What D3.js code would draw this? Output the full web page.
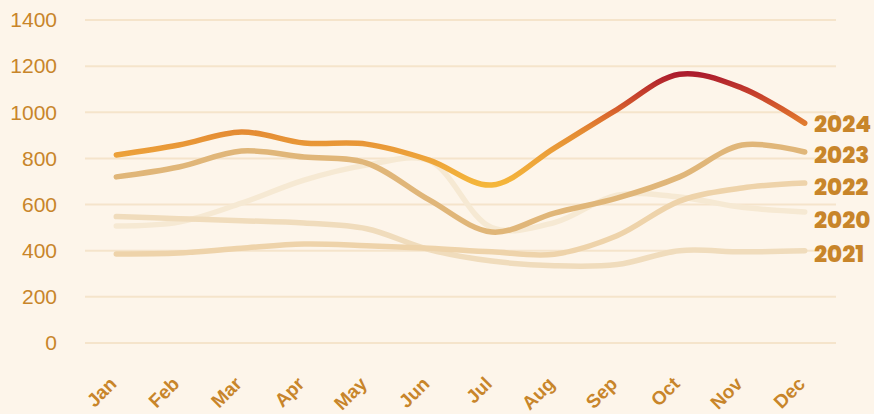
<!DOCTYPE html>
<html><head><meta charset="utf-8">
<script src="https://cdn.jsdelivr.net/npm/d3@7"></script>
<style>html,body{margin:0;padding:0;background:#fdf5ea;}svg{display:block;}</style>
</head><body><svg id="c" width="874" height="414"></svg>
<script>
const months = ["Jan","Feb","Mar","Apr","May","Jun","Jul","Aug","Sep","Oct","Nov","Dec"];
const yTicks = [0,200,400,600,800,1000,1200,1400];
const s2020 = [507,524,606,706,771,790,500,522,641,633,588,568];
const s2021 = [548,539,530,520,495,405,355,335,340,400,395,400];
const s2022 = [386,390,411,429,422,411,395,385,465,615,672,693];
const s2023 = [720,763,832,806,780,620,481,563,628,720,858,828];
const s2024 = [815,858,915,867,862,793,685,845,1012,1165,1105,953];
const seriesNames = ["2020","2021","2022","2023","2024"];
const seriesColors = ["#f6e9d3","#f0dcbc","#eed3aa","#e0b679","url(#g2024)"];
const labelY = [220,254,187,155,124];

const svg = d3.select("#c");
const x = d3.scalePoint().domain(months).range([85,836]).padding(0.5);
const y = d3.scaleLinear().domain([0,1400]).range([343,20]);

const defs = svg.append("defs");
const grad = defs.append("linearGradient").attr("id","g2024")
  .attr("gradientUnits","userSpaceOnUse").attr("x1",0).attr("x2",0)
  .attr("y1",y(680)).attr("y2",y(1170));
[[0,"#f5b73b"],[0.28,"#eca13a"],[0.48,"#e48c34"],[0.62,"#dc6c2d"],[0.8,"#c8432c"],[1,"#ab1b2d"]]
  .forEach(([o,c])=>grad.append("stop").attr("offset",o).attr("stop-color",c));

svg.append("g").selectAll("line").data(yTicks).join("line")
  .attr("x1",85).attr("x2",836).attr("y1",d=>y(d)).attr("y2",d=>y(d))
  .attr("stroke","#f5e4cb").attr("stroke-width",2);

const yAxis = svg.append("g").attr("transform","translate(61,0)")
  .call(d3.axisLeft(y).tickValues(yTicks).tickFormat(d3.format("d")).tickSize(0).tickPadding(4));
yAxis.select(".domain").remove();
yAxis.selectAll("text").attr("fill","#c8852a").style("font-family","'Liberation Sans', Arial, sans-serif").style("font-size","21px");

const xAxis = svg.append("g").attr("transform","translate(0,355)")
  .call(d3.axisBottom(x).tickSize(0).tickPadding(0));
xAxis.select(".domain").remove();
xAxis.selectAll("text").attr("fill","#c8852a")
  .style("font-family","'Liberation Sans', Arial, sans-serif").style("font-size","19px").style("font-weight","bold")
  .attr("text-anchor","end").attr("y",0).attr("dy","0").attr("dx","0")
  .attr("transform","translate(1,30) rotate(-45)");

const line = d3.line().x((d,i)=>x(months[i])).y(d=>y(d)).curve(d3.curveCatmullRom.alpha(0.5));
const data = [s2020,s2021,s2022,s2023,s2024];
svg.append("g").selectAll("path").data(data).join("path")
  .attr("d",line).attr("fill","none")
  .attr("stroke",(d,i)=>seriesColors[i]).attr("stroke-width",5.5)
  .attr("stroke-linecap","round").attr("stroke-linejoin","round");

svg.append("g").selectAll("text").data(seriesNames).join("text")
  .attr("x",814).attr("y",(d,i)=>labelY[i]).attr("dy","0.35em")
  .attr("fill","#c8852a").style("font-family","Poppins, Lato, sans-serif").style("font-weight","800").style("font-size","23px")
  .text(d=>d);
</script></body></html>
